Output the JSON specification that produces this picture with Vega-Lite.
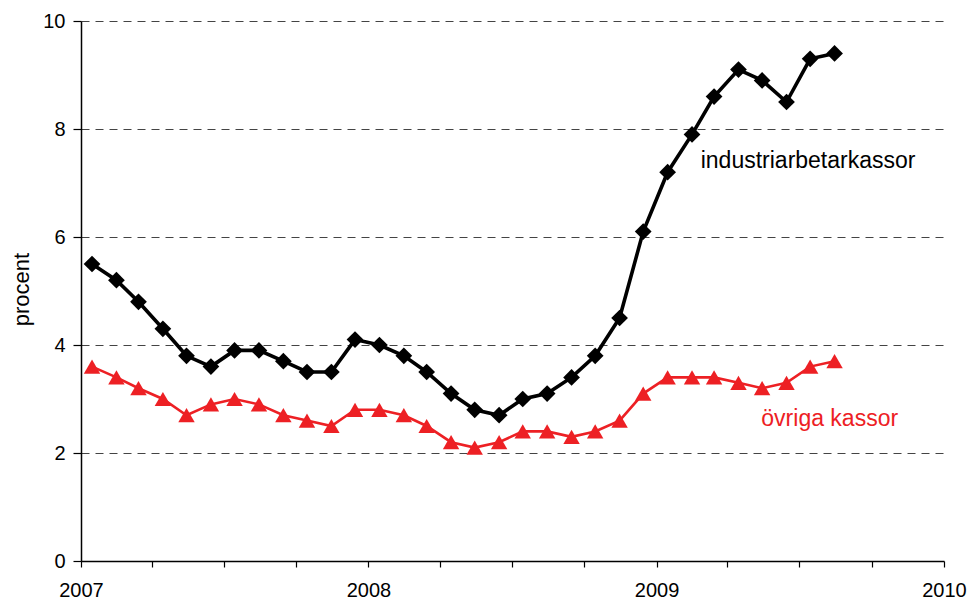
{
  "$schema": "https://vega.github.io/schema/vega-lite/v6.json",
  "width": 863,
  "height": 540,
  "autosize": {"type": "none"},
  "padding": {"left": 81, "top": 21, "right": 24, "bottom": 39},
  "background": "white",
  "config": {
    "view": {"stroke": null},
    "font": "Liberation Sans",
    "axis": {"labelFont": "Liberation Sans", "titleFont": "Liberation Sans", "labelColor": "black", "titleColor": "black"}
  },
  "datasets": {
    "series": [
      {"date": "2007-01-15", "s": "industriarbetarkassor", "v": 5.5},
      {"date": "2007-02-15", "s": "industriarbetarkassor", "v": 5.2},
      {"date": "2007-03-15", "s": "industriarbetarkassor", "v": 4.8},
      {"date": "2007-04-15", "s": "industriarbetarkassor", "v": 4.3},
      {"date": "2007-05-15", "s": "industriarbetarkassor", "v": 3.8},
      {"date": "2007-06-15", "s": "industriarbetarkassor", "v": 3.6},
      {"date": "2007-07-15", "s": "industriarbetarkassor", "v": 3.9},
      {"date": "2007-08-15", "s": "industriarbetarkassor", "v": 3.9},
      {"date": "2007-09-15", "s": "industriarbetarkassor", "v": 3.7},
      {"date": "2007-10-15", "s": "industriarbetarkassor", "v": 3.5},
      {"date": "2007-11-15", "s": "industriarbetarkassor", "v": 3.5},
      {"date": "2007-12-15", "s": "industriarbetarkassor", "v": 4.1},
      {"date": "2008-01-15", "s": "industriarbetarkassor", "v": 4.0},
      {"date": "2008-02-15", "s": "industriarbetarkassor", "v": 3.8},
      {"date": "2008-03-15", "s": "industriarbetarkassor", "v": 3.5},
      {"date": "2008-04-15", "s": "industriarbetarkassor", "v": 3.1},
      {"date": "2008-05-15", "s": "industriarbetarkassor", "v": 2.8},
      {"date": "2008-06-15", "s": "industriarbetarkassor", "v": 2.7},
      {"date": "2008-07-15", "s": "industriarbetarkassor", "v": 3.0},
      {"date": "2008-08-15", "s": "industriarbetarkassor", "v": 3.1},
      {"date": "2008-09-15", "s": "industriarbetarkassor", "v": 3.4},
      {"date": "2008-10-15", "s": "industriarbetarkassor", "v": 3.8},
      {"date": "2008-11-15", "s": "industriarbetarkassor", "v": 4.5},
      {"date": "2008-12-15", "s": "industriarbetarkassor", "v": 6.1},
      {"date": "2009-01-15", "s": "industriarbetarkassor", "v": 7.2},
      {"date": "2009-02-15", "s": "industriarbetarkassor", "v": 7.9},
      {"date": "2009-03-15", "s": "industriarbetarkassor", "v": 8.6},
      {"date": "2009-04-15", "s": "industriarbetarkassor", "v": 9.1},
      {"date": "2009-05-15", "s": "industriarbetarkassor", "v": 8.9},
      {"date": "2009-06-15", "s": "industriarbetarkassor", "v": 8.5},
      {"date": "2009-07-15", "s": "industriarbetarkassor", "v": 9.3},
      {"date": "2009-08-15", "s": "industriarbetarkassor", "v": 9.4},
      {"date": "2007-01-15", "s": "övriga kassor", "v": 3.6},
      {"date": "2007-02-15", "s": "övriga kassor", "v": 3.4},
      {"date": "2007-03-15", "s": "övriga kassor", "v": 3.2},
      {"date": "2007-04-15", "s": "övriga kassor", "v": 3.0},
      {"date": "2007-05-15", "s": "övriga kassor", "v": 2.7},
      {"date": "2007-06-15", "s": "övriga kassor", "v": 2.9},
      {"date": "2007-07-15", "s": "övriga kassor", "v": 3.0},
      {"date": "2007-08-15", "s": "övriga kassor", "v": 2.9},
      {"date": "2007-09-15", "s": "övriga kassor", "v": 2.7},
      {"date": "2007-10-15", "s": "övriga kassor", "v": 2.6},
      {"date": "2007-11-15", "s": "övriga kassor", "v": 2.5},
      {"date": "2007-12-15", "s": "övriga kassor", "v": 2.8},
      {"date": "2008-01-15", "s": "övriga kassor", "v": 2.8},
      {"date": "2008-02-15", "s": "övriga kassor", "v": 2.7},
      {"date": "2008-03-15", "s": "övriga kassor", "v": 2.5},
      {"date": "2008-04-15", "s": "övriga kassor", "v": 2.2},
      {"date": "2008-05-15", "s": "övriga kassor", "v": 2.1},
      {"date": "2008-06-15", "s": "övriga kassor", "v": 2.2},
      {"date": "2008-07-15", "s": "övriga kassor", "v": 2.4},
      {"date": "2008-08-15", "s": "övriga kassor", "v": 2.4},
      {"date": "2008-09-15", "s": "övriga kassor", "v": 2.3},
      {"date": "2008-10-15", "s": "övriga kassor", "v": 2.4},
      {"date": "2008-11-15", "s": "övriga kassor", "v": 2.6},
      {"date": "2008-12-15", "s": "övriga kassor", "v": 3.1},
      {"date": "2009-01-15", "s": "övriga kassor", "v": 3.4},
      {"date": "2009-02-15", "s": "övriga kassor", "v": 3.4},
      {"date": "2009-03-15", "s": "övriga kassor", "v": 3.4},
      {"date": "2009-04-15", "s": "övriga kassor", "v": 3.3},
      {"date": "2009-05-15", "s": "övriga kassor", "v": 3.2},
      {"date": "2009-06-15", "s": "övriga kassor", "v": 3.3},
      {"date": "2009-07-15", "s": "övriga kassor", "v": 3.6},
      {"date": "2009-08-15", "s": "övriga kassor", "v": 3.7}
    ],
    "labels": [
      {"date": "2009-02-26", "v": 7.27, "s": "industriarbetarkassor", "text": "industriarbetarkassor"},
      {"date": "2009-05-14", "v": 2.5, "s": "övriga kassor", "text": "övriga kassor"}
    ]
  },
  "layer": [
    {
      "data": {"name": "series"},
      "mark": {"type": "line", "strokeJoin": "miter"},
      "encoding": {
        "x": {
          "field": "date", "type": "temporal",
          "scale": {"domain": ["2007-01-01T00:00:00", "2010-01-01T00:00:00"], "nice": false},
          "axis": {
            "title": null,
            "values": ["2007-01-01T00:00:00","2007-04-01T00:00:00","2007-07-01T00:00:00","2007-10-01T00:00:00","2008-01-01T00:00:00","2008-04-01T00:00:00","2008-07-01T00:00:00","2008-10-01T00:00:00","2009-01-01T00:00:00","2009-04-01T00:00:00","2009-07-01T00:00:00","2009-10-01T00:00:00","2010-01-01T00:00:00"],
            "labelExpr": "month(datum.value) == 0 ? timeFormat(datum.value, '%Y') : ''",
            "grid": false,
            "domainColor": "black", "domainWidth": 1.5,
            "tickColor": "black", "tickSize": 6, "tickWidth": 1.2,
            "labelFontSize": 20, "labelPadding": 13, "labelFlush": false, "labelOverlap": false
          }
        },
        "y": {
          "field": "v", "type": "quantitative",
          "scale": {"domain": [0, 10], "nice": false},
          "axis": {
            "title": "procent", "titleFontSize": 22, "titleFontWeight": "normal",
            "titleX": -53, "titleY": 268, "titleAngle": -90, "titleAlign": "center", "titleBaseline": "alphabetic",
            "values": [0, 2, 4, 6, 8, 10],
            "grid": true, "gridColor": "#444444", "gridDash": [8, 6], "gridWidth": 1.2,
            "domainColor": "black", "domainWidth": 1.5,
            "tickColor": "black", "tickSize": 8, "tickWidth": 1.2,
            "labelFontSize": 20, "labelPadding": 8
          }
        },
        "color": {
          "field": "s", "type": "nominal",
          "scale": {"domain": ["industriarbetarkassor", "övriga kassor"], "range": ["#000000", "#ed2024"]},
          "legend": null
        },
        "strokeWidth": {
          "field": "s", "type": "nominal",
          "scale": {"domain": ["industriarbetarkassor", "övriga kassor"], "range": [3.6, 2.6]},
          "legend": null
        }
      }
    },
    {
      "data": {"name": "series"},
      "mark": {"type": "point", "filled": true, "opacity": 1},
      "encoding": {
        "x": {"field": "date", "type": "temporal"},
        "y": {"field": "v", "type": "quantitative"},
        "color": {"field": "s", "type": "nominal", "legend": null},
        "shape": {
          "field": "s", "type": "nominal",
          "scale": {"domain": ["industriarbetarkassor", "övriga kassor"], "range": ["diamond", "triangle-up"]},
          "legend": null
        },
        "size": {
          "field": "s", "type": "nominal",
          "scale": {"domain": ["industriarbetarkassor", "övriga kassor"], "range": [280, 270]},
          "legend": null
        }
      }
    },
    {
      "data": {"name": "labels"},
      "mark": {"type": "text", "align": "left", "baseline": "alphabetic", "fontSize": 23, "font": "Liberation Sans"},
      "encoding": {
        "x": {"field": "date", "type": "temporal"},
        "y": {"field": "v", "type": "quantitative"},
        "text": {"field": "text"},
        "color": {"field": "s", "type": "nominal", "legend": null}
      }
    },
    {
      "mark": {"type": "rule", "color": "black", "strokeWidth": 1.5},
      "encoding": {
        "x": {"datum": "2010-01-01T00:00:00", "type": "temporal"}
      }
    }
  ]
}
